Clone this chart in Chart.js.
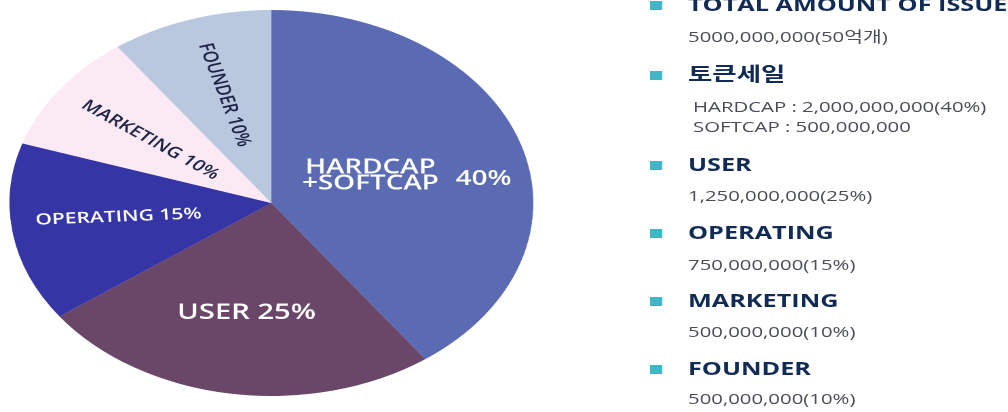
<!DOCTYPE html>
<html>
<head>
<meta charset="utf-8">
<script src="https://cdn.jsdelivr.net/npm/chart.js@4/dist/chart.umd.min.js"></script>
<style>
  html, body { margin: 0; padding: 0; background: #ffffff; width: 1008px; height: 412px; overflow: hidden; }
  #stage { position: absolute; left: 0; top: 0; width: 743px; height: 412px; transform: scaleX(1.357); transform-origin: 0 0; }
  #pie { position: absolute; left: 6.7px; top: 10px; width: 386px; height: 386px; }
  .bullet { position: absolute; left: 478.5px; width: 9.5px; height: 9px; background: #40b7c7; }
  .head { position: absolute; left: 507px; font-family: "Open Sans", "Noto Sans CJK KR", sans-serif; font-weight: 700; font-size: 18.6px; color: #112b55; line-height: 20px; white-space: nowrap; }
  .head.kr { font-size: 19.5px; }
  .val { position: absolute; font-family: "Open Sans", "Noto Sans CJK KR", sans-serif; font-weight: 400; font-size: 15px; color: #4a4d55; line-height: 16px; white-space: nowrap; }
</style>
</head>
<body>
<div id="stage">
  <div id="pie"><canvas id="c"></canvas></div>
  <div id="legend"></div>
</div>
<script>
// ---- data ----
const categories = ['HARDCAP+SOFTCAP', 'USER', 'OPERATING', 'MARKETING', 'FOUNDER'];
const pieLabelLines = [['HARDCAP', '+SOFTCAP'], ['USER'], ['OPERATING'], ['MARKETING'], ['FOUNDER']];
const shares = [40, 25, 15, 10, 10];
const sliceColors = ['#5a6bb4', '#6a4668', '#3535a6', '#fbe9f3', '#b9c7df'];
const legendHeads = ['TOTAL AMOUNT OF ISSUE', '토큰세일', 'USER', 'OPERATING', 'MARKETING', 'FOUNDER'];
const legendDetails = [
  ['5000,000,000(50억개)'],
  ['HARDCAP : 2,000,000,000(40%)', 'SOFTCAP : 500,000,000'],
  ['1,250,000,000(25%)'],
  ['750,000,000(15%)'],
  ['500,000,000(10%)'],
  ['500,000,000(10%)']
];

// ---- legend layout (HTML text) ----
const headCenters = [5, 75, 165, 233, 301, 369];
const detailCenters = [[36], [106, 126], [195], [264], [331], [398]];
const detailX = [507, 510.7, 507, 507, 507, 507];
const legend = document.getElementById('legend');
legendHeads.forEach((h, i) => {
  const b = document.createElement('div');
  b.className = 'bullet';
  b.style.top = (headCenters[i] - 4.5) + 'px';
  legend.appendChild(b);
  const t = document.createElement('div');
  t.className = 'head' + (i === 1 ? ' kr' : '');
  t.textContent = h;
  t.style.top = (headCenters[i] - 11) + 'px';
  legend.appendChild(t);
  legendDetails[i].forEach((d, k) => {
    const v = document.createElement('div');
    v.className = 'val';
    v.textContent = d;
    v.style.left = detailX[i] + 'px';
    v.style.top = (detailCenters[i][k] - 8.5) + 'px';
    legend.appendChild(v);
  });
});

// ---- pie labels (drawn through the chart's own arc geometry) ----
const labelSpecs = [
  { dx: 0.378, dy: -0.1425, rot: 0, size: 20.5, lh: 16, color: '#ffffff', pctDx: 0.81, pctDy: -0.124 },
  { dx: -0.095, dy: 0.57, rot: 0, size: 21.5, color: '#ffffff' },
  { dx: -0.584, dy: 0.073, rot: -3, size: 15.5, color: '#ffffff' },
  { dx: -0.462, dy: -0.326, rot: 36.5, size: 15.2, color: '#1d2345' },
  { dx: -0.18, dy: -0.56, rot: 74, size: 15.2, color: '#1d2345' }
];
const sliceLabels = {
  id: 'sliceLabels',
  afterDatasetsDraw(chart) {
    const ctx = chart.ctx;
    const arcs = chart.getDatasetMeta(0).data;
    arcs.forEach((arc, i) => {
      const s = labelSpecs[i];
      const r = arc.outerRadius;
      const font = `600 ${s.size}px "Open Sans", sans-serif`;
      ctx.save();
      ctx.fillStyle = s.color;
      ctx.font = font;
      ctx.textAlign = 'center';
      ctx.textBaseline = 'middle';
      const lines = pieLabelLines[i];
      if (lines.length > 1) {
        ctx.translate(arc.x + s.dx * r, arc.y + s.dy * r);
        lines.forEach((ln, k) => {
          ctx.fillText(ln, 0, (k - (lines.length - 1) / 2) * s.lh);
        });
        ctx.restore();
        ctx.save();
        ctx.fillStyle = s.color;
        ctx.font = font;
        ctx.textAlign = 'center';
        ctx.textBaseline = 'middle';
        ctx.fillText(shares[i] + '%', arc.x + s.pctDx * r, arc.y + s.pctDy * r);
      } else {
        ctx.translate(arc.x + s.dx * r, arc.y + s.dy * r);
        ctx.rotate(s.rot * Math.PI / 180);
        ctx.fillText(lines[0] + ' ' + shares[i] + '%', 0, 0);
      }
      ctx.restore();
    });
  }
};

new Chart(document.getElementById('c'), {
  type: 'pie',
  data: {
    labels: categories,
    datasets: [{ data: shares, backgroundColor: sliceColors, borderWidth: 0 }]
  },
  options: {
    responsive: true,
    maintainAspectRatio: false,
    animation: false,
    devicePixelRatio: 2,
    layout: { padding: 0 },
    plugins: { legend: { display: false }, tooltip: { enabled: false } }
  },
  plugins: [sliceLabels]
});
</script>
</body>
</html>
